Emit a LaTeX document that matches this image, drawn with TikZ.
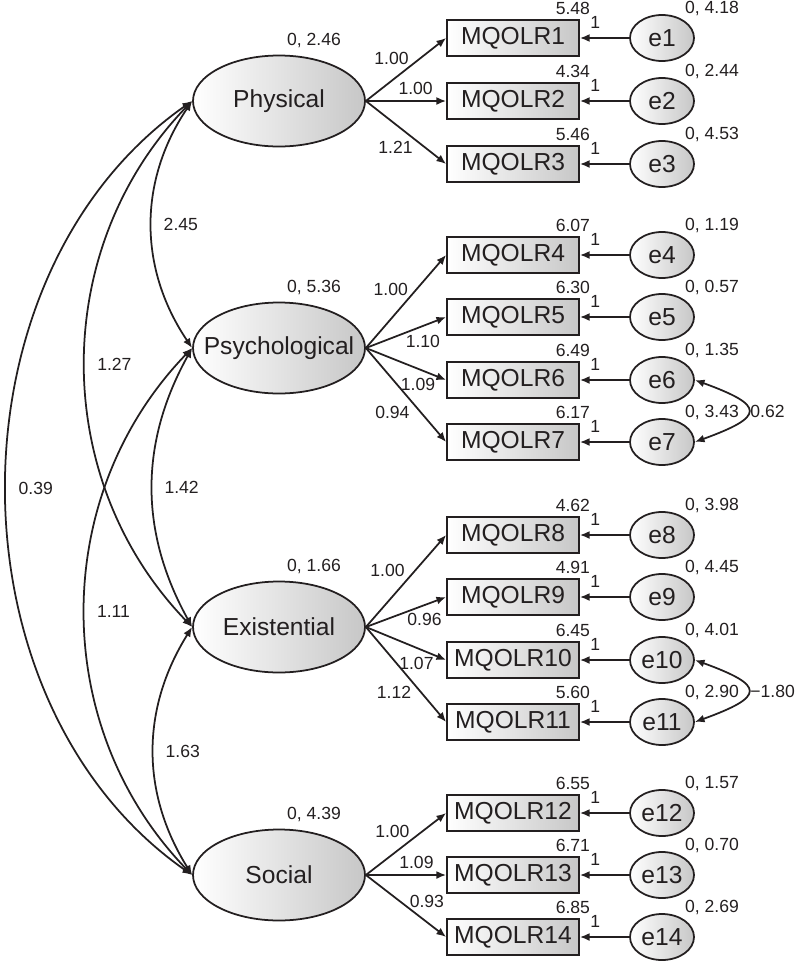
\documentclass[tikz,border=0pt]{standalone}
\usepackage{fontspec}
\setmainfont{Liberation Sans}
\usepackage{tikz}
\usetikzlibrary{shapes.geometric,arrows.meta}
\definecolor{ink}{RGB}{35,31,32}

\begin{document}
\begin{tikzpicture}[color=ink, line width=1pt, >={Latex[length=5.5pt,width=4.5pt]},
	every node/.style={font=\fontsize{10}{12}\selectfont, text=ink},
	latent/.style={shape=ellipse, draw=ink, minimum width=3.44cm, minimum height=1.82cm, inner sep=0pt, inner xsep=-0.5cm, left color=white, middle color=black!5, right color=black!22, font=\fontsize{14}{16}\selectfont},
	obs/.style={shape=rectangle, draw=ink, minimum width=2.64cm, minimum height=0.72cm, inner sep=0pt, left color=white, middle color=black!5, right color=black!22, font=\fontsize{14}{16}\selectfont},
	err/.style={shape=ellipse, draw=ink, minimum width=1.28cm, minimum height=0.92cm, inner sep=0pt, left color=white, middle color=black!5, right color=black!22, font=\fontsize{14}{16}\selectfont},
	lvar/.style={anchor=center, xshift=0.7cm, yshift=0.28cm, font=\fontsize{10}{12}\selectfont},
	icpt/.style={anchor=center, xshift=-0.14cm, yshift=0.22cm, inner sep=1pt, font=\fontsize{10}{12}\selectfont},
	evar/.style={anchor=center, xshift=1.0cm, yshift=0.12cm, inner sep=1pt, font=\fontsize{10}{12}\selectfont}]
	\useasboundingbox (0,0) rectangle (15.9,-19.22);

	% latent factors
	\node[latent, label={[lvar]north:{0, 2.46}}] (Physical) at (5.58,-2.02) {Physical};
	\node[latent, label={[lvar]north:{0, 5.36}}] (Psychological) at (5.58,-6.96) {Psychological};
	\node[latent, label={[lvar]north:{0, 1.66}}] (Existential) at (5.58,-12.54) {Existential};
	\node[latent, label={[lvar]north:{0, 4.39}}] (Social) at (5.58,-17.5) {Social};

	% items
	\node[obs, label={[icpt]north east:5.48}] (MQOLR1) at (10.26,-0.76) {MQOLR1};
	\node[obs, label={[icpt]north east:4.34}] (MQOLR2) at (10.26,-2.02) {MQOLR2};
	\node[obs, label={[icpt]north east:5.46}] (MQOLR3) at (10.26,-3.28) {MQOLR3};
	\node[obs, label={[icpt]north east:6.07}] (MQOLR4) at (10.26,-5.10) {MQOLR4};
	\node[obs, label={[icpt]north east:6.30}] (MQOLR5) at (10.26,-6.34) {MQOLR5};
	\node[obs, label={[icpt]north east:6.49}] (MQOLR6) at (10.26,-7.60) {MQOLR6};
	\node[obs, label={[icpt]north east:6.17}] (MQOLR7) at (10.26,-8.84) {MQOLR7};
	\node[obs, label={[icpt]north east:4.62}] (MQOLR8) at (10.26,-10.70) {MQOLR8};
	\node[obs, label={[icpt]north east:4.91}] (MQOLR9) at (10.26,-11.94) {MQOLR9};
	\node[obs, label={[icpt]north east:6.45}] (MQOLR10) at (10.26,-13.20) {MQOLR10};
	\node[obs, label={[icpt]north east:5.60}] (MQOLR11) at (10.26,-14.44) {MQOLR11};
	\node[obs, label={[icpt]north east:6.55}] (MQOLR12) at (10.26,-16.26) {MQOLR12};
	\node[obs, label={[icpt]north east:6.71}] (MQOLR13) at (10.26,-17.50) {MQOLR13};
	\node[obs, label={[icpt]north east:6.85}] (MQOLR14) at (10.26,-18.74) {MQOLR14};

	% errors
	\node[err, label={[evar]north:{0, 4.18}}] (e1) at (13.24,-0.76) {e1};
	\node[err, label={[evar]north:{0, 2.44}}] (e2) at (13.24,-2.02) {e2};
	\node[err, label={[evar]north:{0, 4.53}}] (e3) at (13.24,-3.28) {e3};
	\node[err, label={[evar]north:{0, 1.19}}] (e4) at (13.24,-5.10) {e4};
	\node[err, label={[evar]north:{0, 0.57}}] (e5) at (13.24,-6.34) {e5};
	\node[err, label={[evar]north:{0, 1.35}}] (e6) at (13.24,-7.60) {e6};
	\node[err, label={[evar]north:{0, 3.43}}] (e7) at (13.24,-8.84) {e7};
	\node[err, label={[evar]north:{0, 3.98}}] (e8) at (13.24,-10.70) {e8};
	\node[err, label={[evar]north:{0, 4.45}}] (e9) at (13.24,-11.94) {e9};
	\node[err, label={[evar]north:{0, 4.01}}] (e10) at (13.24,-13.20) {e10};
	\node[err, label={[evar]north:{0, 2.90}}] (e11) at (13.24,-14.44) {e11};
	\node[err, label={[evar]north:{0, 1.57}}] (e12) at (13.24,-16.26) {e12};
	\node[err, label={[evar]north:{0, 0.70}}] (e13) at (13.24,-17.50) {e13};
	\node[err, label={[evar]north:{0, 2.69}}] (e14) at (13.24,-18.74) {e14};

	% loadings
	\path [->](Physical.east) edge node[pos=0.32,yshift=13pt] {1.00} (MQOLR1.west);
	\path [->](Physical.east) edge node[pos=0.62,yshift=7pt] {1.00} (MQOLR2.west);
	\path [->](Physical.east) edge node[pos=0.37,yshift=-13pt] {1.21} (MQOLR3.west);
	\path [->](Psychological.east) edge node[pos=0.31,yshift=17pt] {1.00} (MQOLR4.west);
	\path [->](Psychological.east) edge node[pos=0.71,yshift=-9pt] {1.10} (MQOLR5.west);
	\path [->](Psychological.east) edge node[pos=0.65,yshift=-9pt] {1.09} (MQOLR6.west);
	\path [->](Psychological.east) edge node[pos=0.33,yshift=-19pt] {0.94} (MQOLR7.west);
	\path [->](Existential.east) edge node[pos=0.27,yshift=18pt] {1.00} (MQOLR8.west);
	\path [->](Existential.east) edge node[pos=0.73,yshift=-8pt] {0.96} (MQOLR9.west);
	\path [->](Existential.east) edge node[pos=0.63,yshift=-9pt] {1.07} (MQOLR10.west);
	\path [->](Existential.east) edge node[pos=0.35,yshift=-18pt] {1.12} (MQOLR11.west);
	\path [->](Social.east) edge node[pos=0.33,yshift=13pt] {1.00} (MQOLR12.west);
	\path [->](Social.east) edge node[pos=0.63,yshift=7pt] {1.09} (MQOLR13.west);
	\path [->](Social.east) edge node[pos=0.76,yshift=12pt] {0.93} (MQOLR14.west);

	% error paths
	\path [->](e1) edge node[pos=0.69,yshift=9pt] {1} (MQOLR1);
	\path [->](e2) edge node[pos=0.69,yshift=9pt] {1} (MQOLR2);
	\path [->](e3) edge node[pos=0.69,yshift=9pt] {1} (MQOLR3);
	\path [->](e4) edge node[pos=0.69,yshift=9pt] {1} (MQOLR4);
	\path [->](e5) edge node[pos=0.69,yshift=9pt] {1} (MQOLR5);
	\path [->](e6) edge node[pos=0.69,yshift=9pt] {1} (MQOLR6);
	\path [->](e7) edge node[pos=0.69,yshift=9pt] {1} (MQOLR7);
	\path [->](e8) edge node[pos=0.69,yshift=9pt] {1} (MQOLR8);
	\path [->](e9) edge node[pos=0.69,yshift=9pt] {1} (MQOLR9);
	\path [->](e10) edge node[pos=0.69,yshift=9pt] {1} (MQOLR10);
	\path [->](e11) edge node[pos=0.69,yshift=9pt] {1} (MQOLR11);
	\path [->](e12) edge node[pos=0.69,yshift=9pt] {1} (MQOLR12);
	\path [->](e13) edge node[pos=0.69,yshift=9pt] {1} (MQOLR13);
	\path [->](e14) edge node[pos=0.69,yshift=9pt] {1} (MQOLR14);

	% covariances
	\path [<->](Physical.west) edge[out=236,in=124] node[right=3pt] {2.45} (Psychological.west);
	\path [<->](Physical.west) edge[out=226,in=134] node[right=3pt] {1.27} (Existential.west);
	\path [<->](Physical.west) edge[out=215,in=145] node[right=3pt] {0.39} (Social.west);
	\path [<->](Psychological.west) edge[out=241,in=119] node[right=3pt] {1.42} (Existential.west);
	\path [<->](Psychological.west) edge[out=226,in=134] node[right=3pt] {1.11} (Social.west);
	\path [<->](Existential.west) edge[out=238,in=122] node[right=3pt] {1.63} (Social.west);
	\path [<->](e6.east) edge[out=-20,in=20,looseness=3.1] node[right,inner sep=1pt] {0.62} (e7.east);
	\path [<->](e10.east) edge[out=-20,in=20,looseness=3.1] node[right,inner sep=1pt] {−1.80} (e11.east);
\end{tikzpicture}
\end{document}
